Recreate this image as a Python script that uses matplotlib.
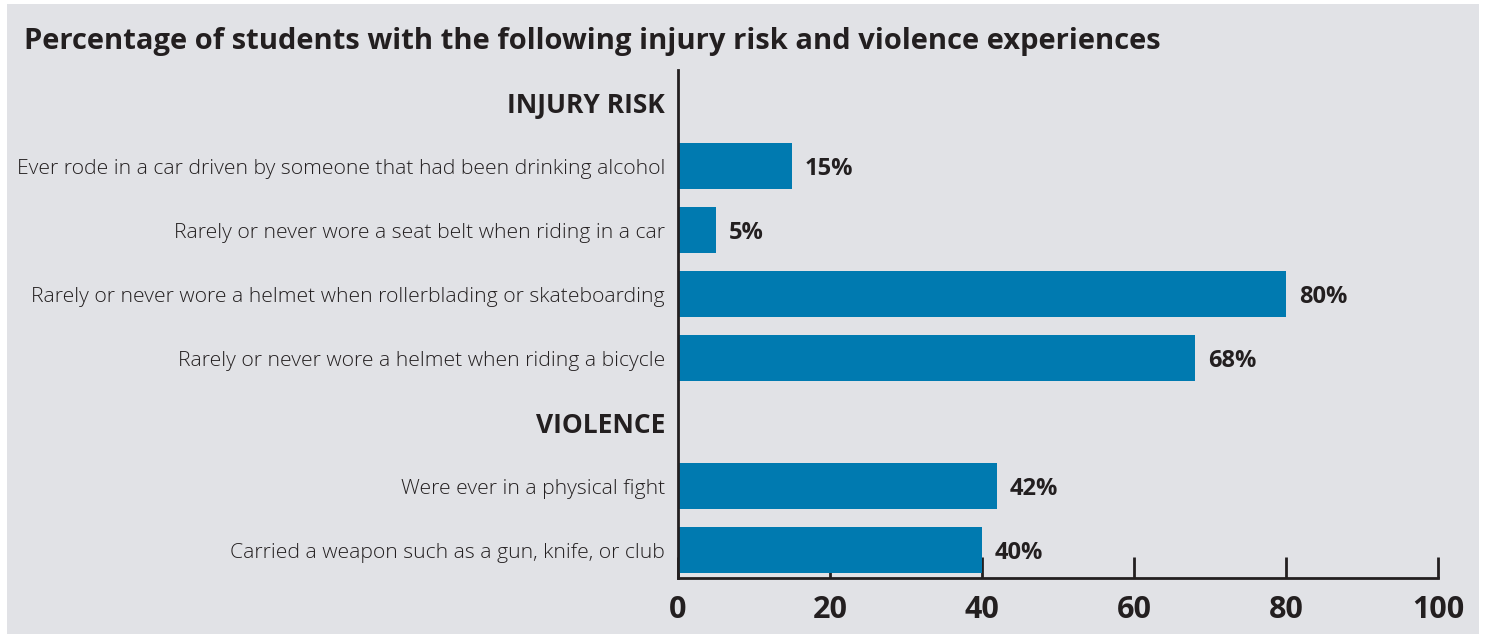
import matplotlib.pyplot as plt
from matplotlib.patches import Rectangle

# rows top to bottom; None = section header row
labels = ['INJURY RISK',
          'Ever rode in a car driven by someone that had been drinking alcohol',
          'Rarely or never wore a seat belt when riding in a car',
          'Rarely or never wore a helmet when rollerblading or skateboarding',
          'Rarely or never wore a helmet when riding a bicycle',
          'VIOLENCE',
          'Were ever in a physical fight',
          'Carried a weapon such as a gun, knife, or club']
values = [None, 15, 5, 80, 68, None, 42, 40]
xticks = [0, 20, 40, 60, 80, 100]

bg = '#e1e2e6'
bar_color = '#007ab0'
ink = '#231f20'
font = 'Open Sans'

W, H = 1485, 635
fig = plt.figure(figsize=(W / 100, H / 100), dpi=100)
fig.patch.set_facecolor('white')
fig.patches.append(Rectangle((7 / W, 1 - 634 / H), (1479 - 7) / W, (634 - 4) / H,
                             transform=fig.transFigure, facecolor=bg, edgecolor='none', zorder=-10))

ax = fig.add_axes([678 / W, 1 - 578 / H, (1438 - 678) / W, (578 - 70) / H])
ax.set_facecolor('none')
ax.set_axisbelow(True)

dy = 0.05  # small nudge so text sits optically centred on the bars
for i, (lab, v) in enumerate(zip(labels, values)):
    if v is None:
        ax.text(-1.7, i + dy, lab, ha='right', va='center', fontsize=19, fontweight='bold',
                color=ink, family=font)
        continue
    ax.barh(i, v, height=0.72, color=bar_color)
    ax.text(-1.7, i + dy, lab, ha='right', va='center', fontsize=15.2, fontweight='light',
            color=ink, family=font)
    ax.text(v + 1.7, i + dy, f'{v}%', ha='left', va='center', fontsize=17, fontweight='bold',
            color=ink, family=font)

ax.set_xlim(0, 100)
ax.set_ylim(7.44, -0.5)
ax.set_yticks([])
ax.set_xticks(xticks)
ax.set_xticklabels([str(t) for t in xticks], fontsize=22, fontweight='bold', color=ink, family=font)
ax.tick_params(axis='x', direction='in', length=15, width=2, color=ink, pad=12)
for s in ['top', 'right']:
    ax.spines[s].set_visible(False)
for s in ['left', 'bottom']:
    ax.spines[s].set_color(ink)
    ax.spines[s].set_linewidth(2)
    ax.spines[s].set_zorder(3)

fig.text(24 / W, 1 - 42 / H, 'Percentage of students with the following injury risk and violence experiences',
         ha='left', va='center', fontsize=21, fontweight='bold', color=ink, family=font)

fig.savefig('out.png', dpi=100, facecolor=fig.get_facecolor())
